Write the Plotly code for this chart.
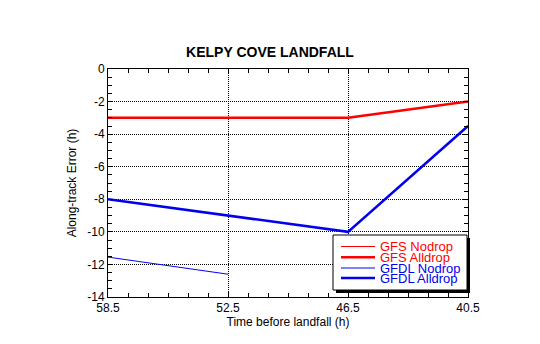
import plotly.graph_objects as go

hours = [58.5, 52.5, 46.5, 40.5]
gfs_nodrop = [-3.0, -3.0, -3.0, -2.0]
gfs_alldrop = [-3.0, -3.0, -3.0, -2.0]
gfdl_nodrop = [-11.55, -12.6, None, None]
gfdl_alldrop = [-8.0, -9.0, -10.0, -3.5]

x_ticks = ["58.5", "52.5", "46.5", "40.5"]
y_tickvals = [0, -2, -4, -6, -8, -10, -12, -14]
y_ticktext = ["0", "-2", "-4", "-6", "-8", "-10", "-12", "-14"]

names = ["GFS Nodrop", "GFS Alldrop", "GFDL Nodrop", "GFDL Alldrop"]
series = [gfs_nodrop, gfs_alldrop, gfdl_nodrop, gfdl_alldrop]
colors = ["#ff0000", "#ff0000", "#0000ee", "#0000ee"]
widths = [1, 2.5, 1, 2.5]

FONT = "Liberation Sans, Arial, sans-serif"

fig = go.Figure()
for n, s, c, w in zip(names, series, colors, widths):
    fig.add_trace(go.Scatter(x=hours, y=s, mode="lines", name=n,
                             line=dict(color=c, width=w), showlegend=False))

L, R, T, B = 108, 72, 69, 47
W, H = 540, 344
pw, ph = W - L - R, H - T - B

def px(x):
    return (x - L) / pw

def py(y):
    return (H - B - y) / ph

shapes = []
# legend shadow and box
bx0, bx1, by0, by1 = 333, 467, 235, 290
shapes.append(dict(type="rect", xref="paper", yref="paper",
                   x0=px(bx0 + 3), x1=px(bx1 + 3), y0=py(by1 + 3), y1=py(by0 + 3),
                   fillcolor="black", line=dict(width=0), layer="above"))
shapes.append(dict(type="rect", xref="paper", yref="paper",
                   x0=px(bx0), x1=px(bx1), y0=py(by1), y1=py(by0),
                   fillcolor="white", line=dict(color="black", width=1), layer="above"))
annotations = []
rows = [246.5, 257.3, 268.0, 278.0]
for n, c, w, ry in zip(names, colors, widths, rows):
    shapes.append(dict(type="line", xref="paper", yref="paper",
                       x0=px(341), x1=px(375), y0=py(ry), y1=py(ry),
                       line=dict(color=c, width=w), layer="above"))
    annotations.append(dict(text=n, xref="paper", yref="paper",
                            x=px(378), y=py(ry), xanchor="left", yanchor="middle",
                            showarrow=False, font=dict(color=c, size=13, family=FONT)))

axis_common = dict(showline=True, linecolor="black", linewidth=1, mirror="allticks",
                   ticks="inside", ticklen=5, tickcolor="black",
                   showgrid=True, gridcolor="black", griddash="1px,1px", gridwidth=1,
                   zeroline=False, tickfont=dict(size=12, family=FONT, color="black"))

fig.update_layout(
    width=W, height=H,
    margin=dict(l=L, r=R, t=T, b=B),
    paper_bgcolor="white", plot_bgcolor="white",
    title=dict(text="<b>KELPY COVE LANDFALL</b>", x=px(288), xanchor="center",
               y=1 - 52 / H, yanchor="middle",
               font=dict(size=14, family=FONT, color="black")),
    xaxis=dict(range=[58.5, 40.5], tickvals=hours, ticktext=x_ticks,
               minor=dict(dtick=1, tick0=40.5, ticks="inside", ticklen=4, tickcolor="black", showgrid=False),
               title=dict(text="Time before landfall (h)", standoff=2,
                          font=dict(size=12, family=FONT, color="black")),
               **axis_common),
    yaxis=dict(range=[-14, 0], tickvals=y_tickvals, ticktext=y_ticktext,
               minor=dict(dtick=0.5, tick0=0, ticks="inside", ticklen=4, tickcolor="black", showgrid=False),
               title=dict(text="Along-track Error (h)", standoff=8,
                          font=dict(size=12, family=FONT, color="black")),
               **axis_common),
    shapes=shapes, annotations=annotations,
)

fig.write_html("out.html")
